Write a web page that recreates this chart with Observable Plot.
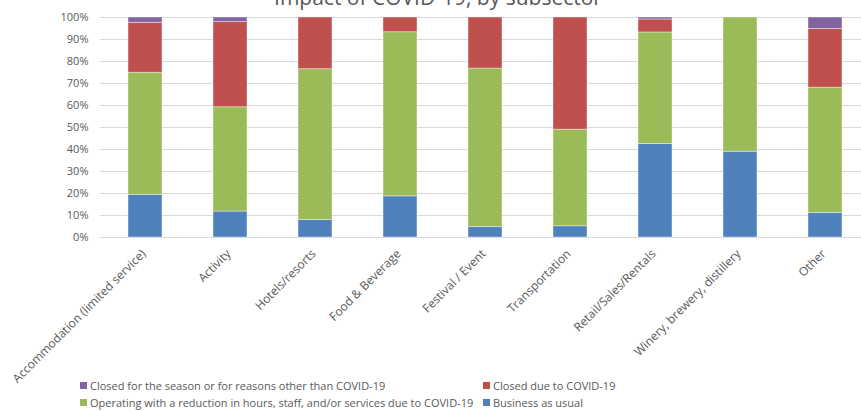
<!DOCTYPE html>
<html>
<head>
<meta charset="utf-8">
<script src="https://cdn.jsdelivr.net/npm/d3@7"></script>
<script src="https://cdn.jsdelivr.net/npm/@observablehq/plot@0.6"></script>
<style>
  html, body { margin: 0; padding: 0; background: #fff; overflow: hidden; }
  #wrap { position: relative; width: 861px; height: 411px; font-family: "Open Sans", sans-serif; color: #595959; }
  #title { position: absolute; left: 0; width: 876px; top: -17px; text-align: center; font-size: 21px; color: #595959; white-space: nowrap; }
  #chart { position: absolute; left: 0; top: 0; }
  .leg { position: absolute; font-size: 11px; white-space: nowrap; display: flex; align-items: center; }
  .sw { display: inline-block; width: 7px; height: 7px; margin-right: 3px; }
</style>
</head>
<body>
<div id="wrap">
  <div id="chart"></div>
  <div id="title">Impact of COVID-19, by subsector</div>
  <div id="legend"></div>
</div>
<script>
const categories = ["Accommodation (limited service)", "Activity", "Hotels/resorts", "Food & Beverage", "Festival / Event", "Transportation", "Retail/Sales/Rentals", "Winery, brewery, distillery", "Other"];
const seriesNames = ["Business as usual", "Operating with a reduction in hours, staff, and/or services due to COVID-19", "Closed due to COVID-19", "Closed for the season or for reasons other than COVID-19"];
const seriesColors = ["#4F81BD", "#9BBB59", "#C0504D", "#8064A2"];
const businessAsUsual = [19.4, 11.8, 7.9, 18.7, 4.7, 5.1, 42.5, 39.0, 11.2];
const operatingReduced = [55.5, 47.4, 68.6, 74.6, 72.1, 43.9, 50.7, 61.0, 56.9];
const closedCovid = [22.7, 38.7, 23.5, 6.7, 23.2, 51.0, 5.9, 0, 26.7];
const closedSeason = [2.4, 2.1, 0, 0, 0, 0, 0.9, 0, 5.2];
const yTicks = [0, 10, 20, 30, 40, 50, 60, 70, 80, 90, 100];

const seriesValues = [businessAsUsual, operatingReduced, closedCovid, closedSeason];
const rows = [];
seriesNames.forEach((s, si) => categories.forEach((c, ci) => rows.push({category: c, series: s, value: seriesValues[si][ci]})));

const H = 411;
const chart = Plot.plot({
  width: 861,
  height: H,
  marginLeft: 100,
  marginRight: 0,
  marginTop: 17,
  marginBottom: H - 237,
  style: {fontFamily: "'Open Sans', sans-serif", fontSize: "11px", color: "#595959", background: "#fff"},
  x: {domain: categories, range: [100, 869], paddingInner: 0.6, paddingOuter: 0.3, axis: null},
  y: {domain: [0, 100], ticks: yTicks, tickFormat: d => d + "%", tickSize: 0, tickPadding: 12, grid: false, label: null},
  color: {domain: seriesNames, range: seriesColors},
  marks: [
    Plot.ruleY(yTicks, {stroke: "#d9d9d9", strokeWidth: 1}),
    Plot.barY(rows, Plot.stackY({x: "category", y: "value", fill: "series", order: seriesNames, stroke: "#ffffff", strokeOpacity: 0.5, strokeWidth: 0.8})),
    Plot.text(categories, {x: d => d, frameAnchor: "bottom", dy: 17, dx: 1, rotate: -45, textAnchor: "end", fill: "#595959", fontSize: 12})
  ]
});
document.getElementById("chart").appendChild(chart);

const legendItems = [
  {name: seriesNames[3], color: seriesColors[3], left: 80, top: 378},
  {name: seriesNames[2], color: seriesColors[2], left: 483, top: 378},
  {name: seriesNames[1], color: seriesColors[1], left: 80, top: 395},
  {name: seriesNames[0], color: seriesColors[0], left: 483, top: 395}
];
const leg = document.getElementById("legend");
legendItems.forEach(it => {
  const d = document.createElement("div");
  d.className = "leg";
  d.style.left = it.left + "px";
  d.style.top = it.top + "px";
  const sw = document.createElement("span");
  sw.className = "sw";
  sw.style.background = it.color;
  d.appendChild(sw);
  d.appendChild(document.createTextNode(it.name));
  leg.appendChild(d);
});
</script>
</body>
</html>
